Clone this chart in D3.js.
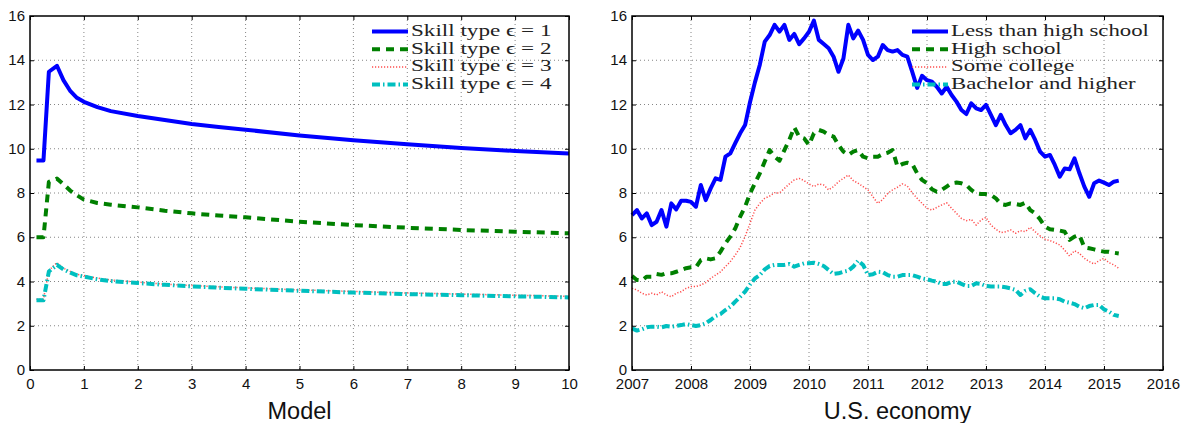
<!DOCTYPE html>
<html><head><meta charset="utf-8">
<script src="https://cdn.jsdelivr.net/npm/d3@7"></script>
<style>
body{margin:0;background:#fff;}
svg{display:block;}
</style></head><body>
<svg id="chart" width="1181" height="423"></svg>
<script>
// ---------------- DATA ----------------
// Left panel: Model
const modelT = [0.12,0.25,0.35,0.5,0.62,0.75,0.87,1,1.25,1.5,2,2.5,3,3.5,4,5,6,7,8,9,10];
const skill1 = [9.47,9.47,13.48,13.75,13.1,12.6,12.3,12.12,11.88,11.7,11.48,11.3,11.12,10.98,10.86,10.6,10.38,10.2,10.03,9.9,9.78];
const skill2 = [6.0,6.0,8.5,8.65,8.4,8.1,7.9,7.7,7.55,7.47,7.35,7.2,7.08,6.98,6.9,6.7,6.55,6.43,6.33,6.25,6.18];
const skill3 = [3.2,3.2,4.5,4.85,4.6,4.45,4.32,4.27,4.15,4.07,3.97,3.88,3.82,3.76,3.71,3.62,3.55,3.48,3.43,3.38,3.33];
const skill4 = [3.15,3.15,4.45,4.75,4.55,4.4,4.28,4.22,4.1,4.02,3.93,3.85,3.78,3.72,3.67,3.58,3.5,3.43,3.38,3.33,3.28];
const modelLabels = ["Skill type \u03F5 = 1","Skill type \u03F5 = 2","Skill type \u03F5 = 3","Skill type \u03F5 = 4"];
const modelXTicks = [0,1,2,3,4,5,6,7,8,9,10];
const yTicks = [0,2,4,6,8,10,12,14,16];

// Right panel: U.S. economy, monthly from Jan 2007
const startYear = 2007;
const lessHS = [7.0,7.23,6.85,7.08,6.55,6.70,7.23,6.48,7.53,7.26,7.65,7.65,7.6,7.38,8.36,7.68,8.21,8.66,8.59,9.64,9.79,10.25,10.70,11.07,12.1,13.0,
 13.8,14.84,15.14,15.6,15.29,15.6,14.92,15.19,14.73,14.99,15.29,15.79,14.92,14.73,14.54,14.16,13.48,14.08,15.6,14.99,15.34,14.92,14.24,14.01,
 14.16,14.69,14.46,14.39,14.46,14.24,14.16,13.48,12.75,13.3,13.1,13.03,12.8,12.5,12.8,12.43,12.13,11.75,11.57,12.05,11.83,11.75,11.98,11.53,
 11.07,11.53,11.07,10.7,10.85,11.07,10.47,10.85,10.4,9.87,9.64,9.72,9.27,8.74,9.11,9.07,9.57,8.89,8.29,7.83,8.44,8.56,8.47,8.36,8.51,8.56];
const highSchool = [4.25,4.07,4.05,4.22,4.22,4.34,4.3,4.37,4.37,4.44,4.52,4.6,4.64,4.64,4.97,5.05,5.0,5.05,5.35,5.72,6.03,6.4,6.93,7.38,7.98,8.44,
 8.89,9.42,9.94,9.64,9.46,9.94,10.4,10.97,10.55,10.47,10.17,10.7,10.85,10.77,10.62,10.55,10.17,9.87,9.72,9.87,9.94,9.64,9.57,9.64,
 9.64,9.76,9.82,9.94,9.19,9.31,9.37,9.31,8.89,8.59,8.44,8.17,8.06,8.14,8.29,8.44,8.47,8.44,8.36,8.14,7.98,7.95,7.95,7.91,
 7.76,7.5,7.46,7.53,7.5,7.46,7.56,7.23,7.08,6.81,6.48,6.36,6.33,6.3,6.25,5.88,6.03,6.1,5.54,5.5,5.45,5.39,5.35,5.35,5.3,5.27];
const someCollege = [3.69,3.62,3.47,3.39,3.47,3.39,3.54,3.39,3.31,3.47,3.54,3.69,3.77,3.77,3.84,3.95,4.14,4.29,4.44,4.67,4.9,5.2,5.54,6.03,6.63,7.23,
 7.53,7.76,7.86,8.01,8.0,8.21,8.41,8.59,8.66,8.56,8.41,8.29,8.41,8.36,8.14,8.29,8.51,8.66,8.81,8.56,8.44,8.29,8.14,7.83,
 7.53,7.71,7.98,8.14,8.26,8.41,8.31,8.01,7.76,7.53,7.31,7.23,7.35,7.46,7.56,7.31,7.08,6.85,6.75,6.81,6.55,6.78,6.9,6.55,
 6.36,6.21,6.25,6.33,6.18,6.3,6.25,6.45,6.25,6.06,5.91,5.85,5.76,5.65,5.42,5.15,5.39,5.27,5.05,4.9,4.79,4.94,5.05,4.85,4.75,4.6];
const bachelor = [1.88,1.78,1.84,1.93,1.96,1.96,1.93,1.99,1.96,1.99,2.03,2.08,2.03,1.99,2.03,2.11,2.26,2.44,2.53,2.71,2.86,3.09,3.31,3.54,3.86,4.14,
 4.29,4.55,4.7,4.75,4.75,4.75,4.79,4.67,4.75,4.82,4.82,4.85,4.79,4.7,4.52,4.34,4.37,4.44,4.49,4.67,4.94,4.75,4.29,4.33,
 4.44,4.42,4.29,4.22,4.22,4.29,4.29,4.29,4.22,4.14,4.1,4.04,3.99,3.89,3.89,3.99,3.99,3.89,3.8,3.8,3.92,3.89,3.8,3.77,
 3.77,3.77,3.74,3.69,3.62,3.39,3.58,3.65,3.47,3.31,3.24,3.24,3.24,3.2,3.09,3.04,2.98,2.86,2.79,2.89,2.94,2.94,2.74,2.64,2.49,2.44];
const econLabels = ["Less than high school","High school","Some college","Bachelor and higher"];
const econXTicks = [2007,2008,2009,2010,2011,2012,2013,2014,2015,2016];

// ---------------- STYLE ----------------
const styles = [
  {color:"#0000ff", width:4, dash:null},
  {color:"#008000", width:4, dash:"8,6"},
  {color:"#ff4d4d", width:1.5, dash:"1.2,1.8"},
  {color:"#00bfbf", width:4, dash:"8,3,1.5,3"}
];

const svg = d3.select("#chart");
const plotTop = 16, plotBot = 370;
const y = d3.scaleLinear().domain([0,16]).range([plotBot, plotTop]);

function panel(cfg){
  const g = svg.append("g");
  const x = cfg.x;
  const [x0,x1] = x.range();
  // grid
  g.append("g").selectAll("line").data(cfg.xTicks.filter(t=>t!==x.domain()[0] && t!==x.domain()[1]))
    .join("line").attr("x1",d=>x(d)).attr("x2",d=>x(d)).attr("y1",plotTop).attr("y2",plotBot)
    .attr("stroke","#777").attr("stroke-width",0.9).attr("stroke-dasharray","1,3");
  g.append("g").selectAll("line").data(yTicks.filter(t=>t!==0 && t!==16))
    .join("line").attr("x1",x0).attr("x2",x1).attr("y1",d=>y(d)).attr("y2",d=>y(d))
    .attr("stroke","#777").attr("stroke-width",0.9).attr("stroke-dasharray","1,3");
  // lines
  cfg.series.forEach((s,i)=>{
    const st = styles[i];
    const line = d3.line().x((d,j)=>x(cfg.xs[j])).y(d=>y(d)).curve(d3.curveLinear);
    g.append("path").datum(s).attr("d",line).attr("fill","none")
      .attr("stroke",st.color).attr("stroke-width",st.width)
      .attr("stroke-dasharray",st.dash).attr("stroke-linejoin","round");
  });
  // axes
  const tickFont = "'Liberation Sans', Arial, sans-serif";
  const ax = g.append("g").attr("transform",`translate(0,${plotBot})`)
    .call(d3.axisBottom(x).tickValues(cfg.xTicks).tickFormat(d3.format("d")).tickSize(-4).tickSizeOuter(0).tickPadding(7));
  const ay = g.append("g").attr("transform",`translate(${x0},0)`)
    .call(d3.axisLeft(y).tickValues(yTicks).tickFormat(d3.format("d")).tickSize(-4).tickSizeOuter(0).tickPadding(5));
  const at = g.append("g").attr("transform",`translate(0,${plotTop})`)
    .call(d3.axisTop(x).tickValues(cfg.xTicks).tickFormat("").tickSize(-4).tickSizeOuter(0));
  const ar = g.append("g").attr("transform",`translate(${x1},0)`)
    .call(d3.axisRight(y).tickValues(yTicks).tickFormat("").tickSize(-4).tickSizeOuter(0));
  [ax,ay,at,ar].forEach(a=>{
    a.select(".domain").remove();
    a.selectAll(".tick line").attr("stroke","#000").attr("stroke-width",1);
    a.selectAll("text").attr("font-family",tickFont).attr("font-size","15px").attr("fill","#111");
  });
  ax.selectAll("text").attr("dy","0.8em");
  ay.selectAll("text").attr("dy","0.3em");
  // frame
  g.append("rect").attr("x",x0).attr("y",plotTop).attr("width",x1-x0).attr("height",plotBot-plotTop)
    .attr("fill","none").attr("stroke","#000").attr("stroke-width",1.5);
  // legend
  const lg = g.append("g");
  cfg.labels.forEach((lab,i)=>{
    const st = styles[i];
    const by = 36 + i*17.7;
    lg.append("line").attr("x1",cfg.legX).attr("x2",cfg.legX+36).attr("y1",by-4.5).attr("y2",by-4.5)
      .attr("stroke",st.color).attr("stroke-width",st.width).attr("stroke-dasharray",st.dash);
    const t = lg.append("text").attr("x",cfg.legX+39).attr("y",by).text(lab)
      .attr("font-family","'Liberation Serif','Times New Roman',serif").attr("font-size","16.5px").attr("fill","#222");
    const w = t.node().getComputedTextLength();
    t.attr("textLength", w*cfg.stretch).attr("lengthAdjust","spacingAndGlyphs");
  });
  // title
  g.append("text").attr("x",(x0+x1)/2).attr("y",418.5).attr("text-anchor","middle")
    .attr("font-family",tickFont).attr("font-size","23.5px").attr("fill","#111")
    .text(cfg.title);
}

panel({
  x: d3.scaleLinear().domain([0,10]).range([30,569]),
  xs: modelT, xTicks: modelXTicks,
  series:[skill1,skill2,skill3,skill4], labels: modelLabels,
  legX: 372, stretch: 1.4, title: "Model"
});
const months = lessHS.map((d,i)=>startYear + i/12);
panel({
  x: d3.scaleLinear().domain([2007,2016]).range([632,1163]),
  xs: months, xTicks: econXTicks,
  series:[lessHS,highSchool,someCollege,bachelor], labels: econLabels,
  legX: 912, stretch: 1.38, title: "U.S. economy"
});
</script>
</body></html>
